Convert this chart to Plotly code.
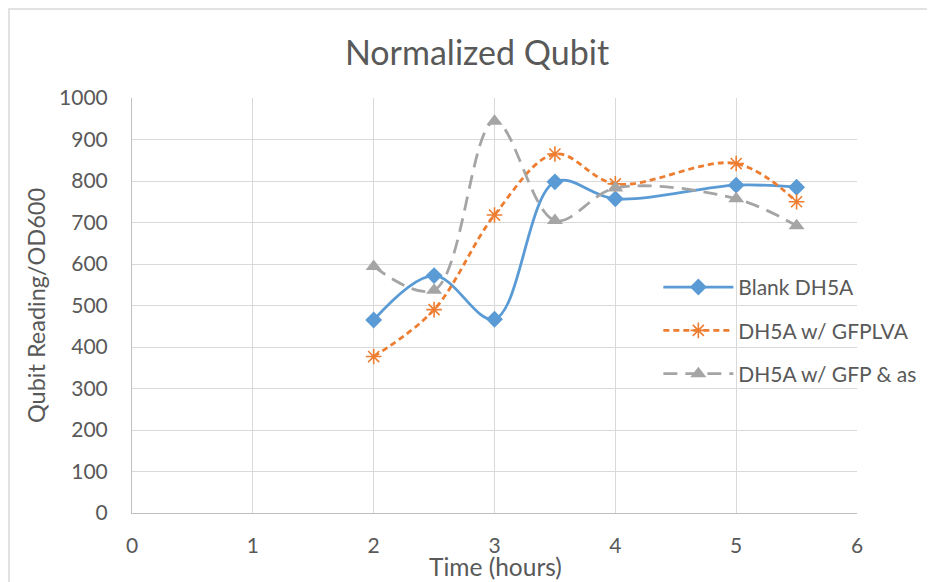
import plotly.graph_objects as go

time_hours = [2, 2.5, 3, 3.5, 4, 5, 5.5]
blank_dh5a = [465, 572, 467, 798, 757, 790, 785]
dh5a_gfplva = [377, 490, 718, 865, 793, 842, 750]
dh5a_gfp_as = [594, 537, 944, 705, 783, 757, 692]

series_names = ["Blank DH5A", "DH5A w/ GFPLVA", "DH5A w/ GFP & as"]

FONT = "Lato, 'Open Sans', sans-serif"
TXT = "#595959"

# page is offset by the browser's 8px body margin; margins compensate
L, R, T, B = 124, 86, 90, 77
PW = 935 - L - R
PH = 582 - T - B

fig = go.Figure()
fig.add_trace(go.Scatter(
    x=time_hours, y=blank_dh5a, name=series_names[0], mode="lines+markers",
    line=dict(color="#5B9BD5", width=2.8, shape="spline", smoothing=1),
    marker=dict(symbol="diamond", size=13, color="#5B9BD5"),
    legendgroup="a"))
fig.add_trace(go.Scatter(
    x=time_hours, y=dh5a_gfplva, name=series_names[1], mode="lines+markers",
    line=dict(color="#ED7D31", width=2.8, shape="spline", smoothing=1, dash="6px,4px"),
    marker=dict(symbol="asterisk-open", size=13, line=dict(color="#ED7D31", width=1.6)),
    legendgroup="b"))
fig.add_trace(go.Scatter(
    x=time_hours, y=dh5a_gfp_as, name=series_names[2], mode="lines+markers",
    line=dict(color="#A5A5A5", width=2.8, shape="spline", smoothing=1, dash="14px,8px"),
    marker=dict(symbol="triangle-up", size=14, color="#A5A5A5"),
    legendgroup="c"))

fig.update_layout(
    template="none",
    width=935, height=582,
    margin=dict(l=L, r=R, t=T, b=B),
    paper_bgcolor="white", plot_bgcolor="white",
    font=dict(family=FONT, color=TXT, size=21),
    title=dict(text="Normalized Qubit", x=(477 - 8 - L) / PW, xref="paper", xanchor="center",
               y=1 - (53 - 8) / 582, yanchor="middle",
               font=dict(size=34, color=TXT, family=FONT)),
    xaxis=dict(range=[0, 6], dtick=1, showgrid=True, gridcolor="#D9D9D9", gridwidth=1,
               showline=True, linecolor="#BFBFBF", linewidth=1, zeroline=False,
               ticks="", ticklabelstandoff=14, automargin=False,
               tickfont=dict(size=21, color=TXT)),
    yaxis=dict(range=[0, 1000], dtick=100, showgrid=True, gridcolor="#D9D9D9", gridwidth=1,
               showline=True, linecolor="#BFBFBF", linewidth=1, zeroline=False,
               ticks="", ticklabelstandoff=19, automargin=False,
               title=dict(text="Qubit Reading/OD600", font=dict(size=23.5), standoff=6),
               tickfont=dict(size=21, color=TXT)),
    legend=dict(x=0.726, y=0.593, xanchor="left", yanchor="top", bgcolor="rgba(0,0,0,0)",
                font=dict(size=21, color=TXT), tracegroupgap=13, itemwidth=70),
    showlegend=True,
)

# x-axis title as annotation (precise placement)
fig.add_annotation(text="Time (hours)", xref="paper", yref="paper",
                   x=(496 - 8 - L) / PW, y=(T + PH - (566 - 8)) / PH,
                   xanchor="center", yanchor="middle", showarrow=False,
                   font=dict(size=24.5, color=TXT, family=FONT))

fig.add_shape(type="rect", xref="paper", yref="paper",
              x0=(1 - L) / PW, x1=(950 - L) / PW,
              y0=(T + PH - 600) / PH, y1=(T + PH - 1) / PH,
              line=dict(color="#D9D9D9", width=1.5), fillcolor="rgba(0,0,0,0)", layer="below")

fig.write_html("out.html")
